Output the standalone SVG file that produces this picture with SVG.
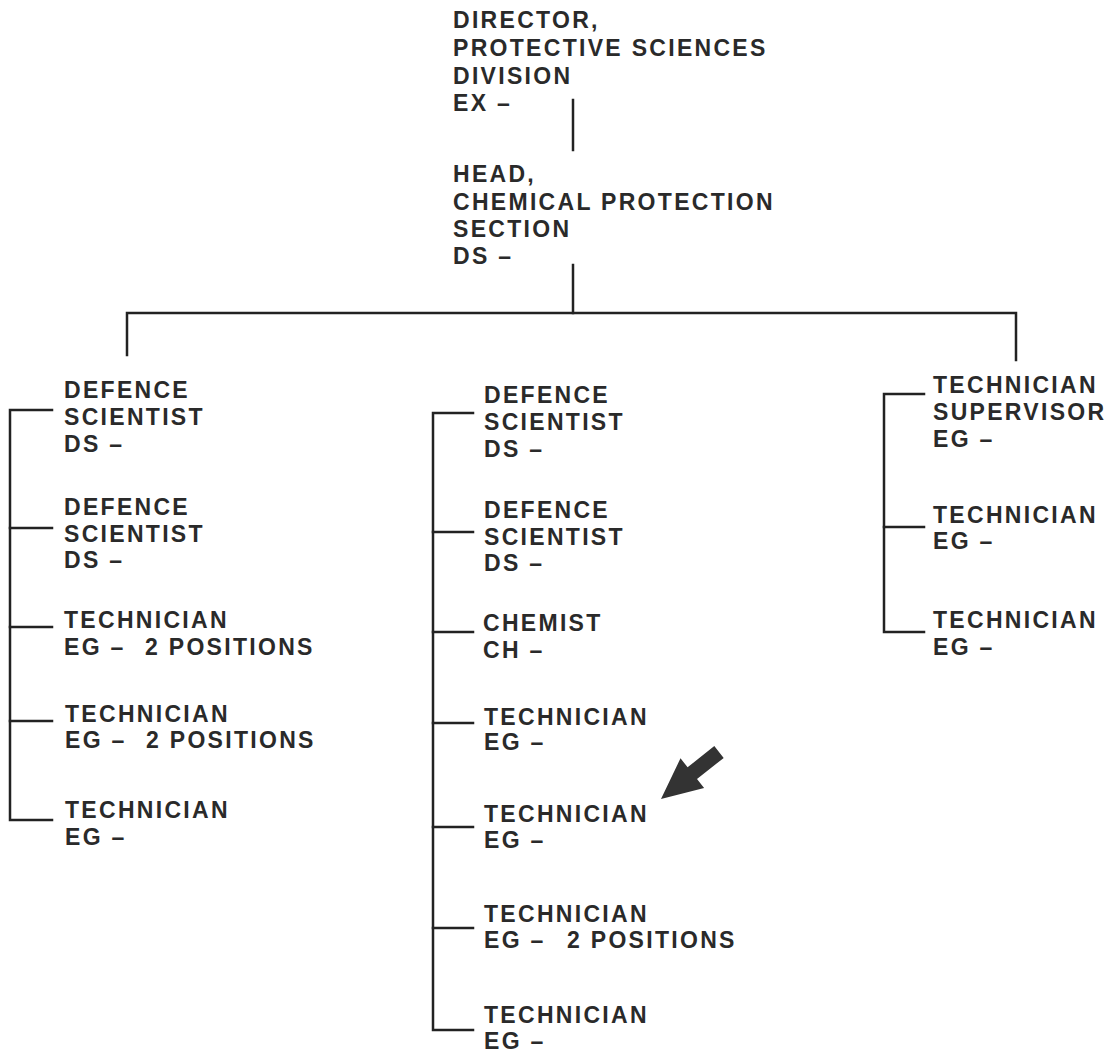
<svg xmlns="http://www.w3.org/2000/svg" width="1110" height="1055" viewBox="0 0 1110 1055">
  <style>
    .t { font-family: "Liberation Sans", Arial, sans-serif; font-weight: bold; font-size: 23px; letter-spacing: 2.3px; fill: #2a2a2a; }
    .ln { stroke: #222; stroke-width: 2.5; fill: none; stroke-linecap: square; }
  </style>
  <rect width="1110" height="1055" fill="#ffffff"/>

  <!-- reporting lines -->
  <g id="connectors" class="ln">
    <path d="M573 100 V150"/>
    <path d="M573 265 V313"/>
    <path d="M127 355 V313 H1016 V360"/>
    <!-- left column bracket -->
    <path d="M52 410 H10 V820 H52"/>
    <path d="M10 528 H52 M10 627 H52 M10 721 H52"/>
    <!-- centre column bracket -->
    <path d="M473 413 H433 V1030 H473"/>
    <path d="M433 532 H473 M433 632 H473 M433 723 H473 M433 827 H473 M433 928 H473"/>
    <!-- right column bracket -->
    <path d="M924 394 H884 V632 H924"/>
    <path d="M884 527 H924"/>
  </g>

  <g id="director">
    <text class="t" x="453" y="28">DIRECTOR,</text>
    <text class="t" x="453" y="56">PROTECTIVE SCIENCES</text>
    <text class="t" x="453" y="84">DIVISION</text>
    <text class="t" x="453" y="111">EX –</text>
  </g>

  <g id="head">
    <text class="t" x="453" y="182">HEAD,</text>
    <text class="t" x="453" y="210">CHEMICAL PROTECTION</text>
    <text class="t" x="453" y="237">SECTION</text>
    <text class="t" x="453" y="264">DS –</text>
  </g>

  <!-- left column -->
  <g id="left-ds-1">
    <text class="t" x="64" y="398">DEFENCE</text>
    <text class="t" x="64" y="425">SCIENTIST</text>
    <text class="t" x="64" y="452">DS –</text>
  </g>
  <g id="left-ds-2">
    <text class="t" x="64" y="515">DEFENCE</text>
    <text class="t" x="64" y="542">SCIENTIST</text>
    <text class="t" x="64" y="568">DS –</text>
  </g>
  <g id="left-tech-1">
    <text class="t" x="64" y="628">TECHNICIAN</text>
    <text class="t" x="64" y="655">EG –<tspan x="145">2 POSITIONS</tspan></text>
  </g>
  <g id="left-tech-2">
    <text class="t" x="65" y="722">TECHNICIAN</text>
    <text class="t" x="65" y="748">EG –<tspan x="146">2 POSITIONS</tspan></text>
  </g>
  <g id="left-tech-3">
    <text class="t" x="65" y="818">TECHNICIAN</text>
    <text class="t" x="65" y="845">EG –</text>
  </g>

  <!-- centre column -->
  <g id="mid-ds-1">
    <text class="t" x="484" y="403">DEFENCE</text>
    <text class="t" x="484" y="430">SCIENTIST</text>
    <text class="t" x="484" y="457">DS –</text>
  </g>
  <g id="mid-ds-2">
    <text class="t" x="484" y="518">DEFENCE</text>
    <text class="t" x="484" y="545">SCIENTIST</text>
    <text class="t" x="484" y="571">DS –</text>
  </g>
  <g id="mid-chemist">
    <text class="t" x="483" y="631">CHEMIST</text>
    <text class="t" x="483" y="658">CH –</text>
  </g>
  <g id="mid-tech-1">
    <text class="t" x="484" y="725">TECHNICIAN</text>
    <text class="t" x="484" y="750">EG –</text>
  </g>
  <g id="mid-tech-2">
    <text class="t" x="484" y="822">TECHNICIAN</text>
    <text class="t" x="484" y="848">EG –</text>
  </g>
  <g id="mid-tech-3">
    <text class="t" x="484" y="922">TECHNICIAN</text>
    <text class="t" x="484" y="948">EG –<tspan x="567">2 POSITIONS</tspan></text>
  </g>
  <g id="mid-tech-4">
    <text class="t" x="484" y="1023">TECHNICIAN</text>
    <text class="t" x="484" y="1049">EG –</text>
  </g>

  <!-- right column -->
  <g id="right-supervisor">
    <text class="t" x="933" y="393">TECHNICIAN</text>
    <text class="t" x="933" y="420">SUPERVISOR</text>
    <text class="t" x="933" y="447">EG –</text>
  </g>
  <g id="right-tech-1">
    <text class="t" x="933" y="523">TECHNICIAN</text>
    <text class="t" x="933" y="549">EG –</text>
  </g>
  <g id="right-tech-2">
    <text class="t" x="933" y="628">TECHNICIAN</text>
    <text class="t" x="933" y="655">EG –</text>
  </g>

  <!-- pointer arrow -->
  <g id="pointer">
    <polygon fill="#333" points="714.3,746.1 723.7,757.9 697,779 704.1,788.1 661,799 680.5,758.3 687.6,767.3"/>
  </g>
</svg>
